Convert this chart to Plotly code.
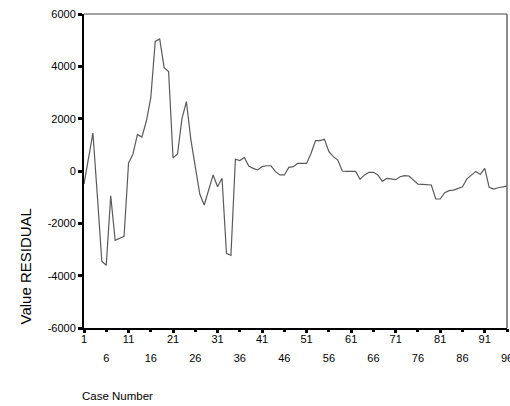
import plotly.graph_objects as go

case_number = list(range(1, 97))
residual = [
    -500, 550, 1450, -950, -3450, -3600, -950, -2650, -2580, -2500,
    300, 650, 1400, 1300, 1900, 2800, 4950, 5050, 3950, 3800,
    500, 650, 2000, 2650, 1200, 150, -880, -1300, -730, -150,
    -600, -280, -3150, -3220, 450, 400, 520, 190, 100, 40,
    165, 200, 200, -25, -150, -150, 140, 165, 290, 290,
    290, 680, 1160, 1160, 1210, 740, 550, 420, 0, -15,
    -15, -15, -320, -150, -50, -50, -150, -395, -280, -320,
    -330, -220, -180, -190, -345, -500, -510, -510, -535, -1070,
    -1070, -830, -750, -730, -680, -600, -300, -150, -15, -130,
    100, -625, -690, -640, -600, -575,
]
x_ticks_row1 = [1, 11, 21, 31, 41, 51, 61, 71, 81, 91]
x_ticks_row2 = [6, 16, 26, 36, 46, 56, 66, 76, 86, 96]
y_ticks = [-6000, -4000, -2000, 0, 2000, 4000, 6000]

FONT = "Liberation Sans, Arial, sans-serif"

fig = go.Figure()
fig.add_trace(go.Scatter(
    x=case_number, y=residual, mode="lines",
    line=dict(color="#5a5a5a", width=1.2), showlegend=False,
))
# second-row x tick labels via overlaying axis
fig.add_trace(go.Scatter(x=[1, 96], y=[0, 0], xaxis="x2", mode="lines",
                         line=dict(width=0), hoverinfo="skip", showlegend=False))

common_x = dict(range=[1, 96], showgrid=False, zeroline=False, automargin=False,
                ticks="outside", ticklen=3, tickwidth=3, tickcolor="black",
                ticklabeloverflow="allow",
                tickfont=dict(family=FONT, size=11, color="black"))

fig.update_layout(
    width=510, height=406,
    margin=dict(l=84, r=3, t=14, b=78, autoexpand=False),
    paper_bgcolor="white", plot_bgcolor="white",
    font=dict(family=FONT, size=11, color="black"),
    xaxis=dict(**common_x, tickvals=x_ticks_row1,
               ticktext=[str(v) for v in x_ticks_row1],
               ticklabelstandoff=-3,
               showline=True, linecolor="black", linewidth=1.5),
    xaxis2=dict(**common_x, overlaying="x", side="bottom", anchor="y",
                tickvals=x_ticks_row2,
                ticktext=[str(v) for v in x_ticks_row2],
                ticklabelstandoff=17, showline=False),
    yaxis=dict(range=[-6000, 6000], tickvals=y_ticks,
               ticktext=[str(v) for v in y_ticks],
               showgrid=False, zeroline=False, automargin=False,
               ticks="outside", ticklen=4, tickwidth=3, tickcolor="black",
               ticklabeloverflow="allow",
               showline=True, linecolor="black", linewidth=2,
               tickfont=dict(family=FONT, size=11, color="black")),
    shapes=[
        dict(type="line", xref="paper", yref="paper", x0=0, x1=1, y0=1, y1=1,
             line=dict(color="#444444", width=1)),
        dict(type="line", xref="paper", yref="paper", x0=1, x1=1, y0=0, y1=1,
             line=dict(color="#666666", width=1.5)),
    ],
    annotations=[
        dict(text="Value RESIDUAL", textangle=-90, xref="paper", yref="paper",
             x=-0.1383, y=0.1975, xanchor="center", yanchor="middle",
             showarrow=False, font=dict(family=FONT, size=15, color="black")),
        dict(text="Case Number", xref="paper", yref="paper",
             x=-0.009, y=-0.2166, xanchor="left", yanchor="middle",
             showarrow=False, font=dict(family=FONT, size=11.5, color="black")),
    ],
)

fig.write_html(
    "out.html",
    config={"displayModeBar": False},
    post_script="document.body.style.margin='0px';document.body.style.overflow='hidden';",
)
